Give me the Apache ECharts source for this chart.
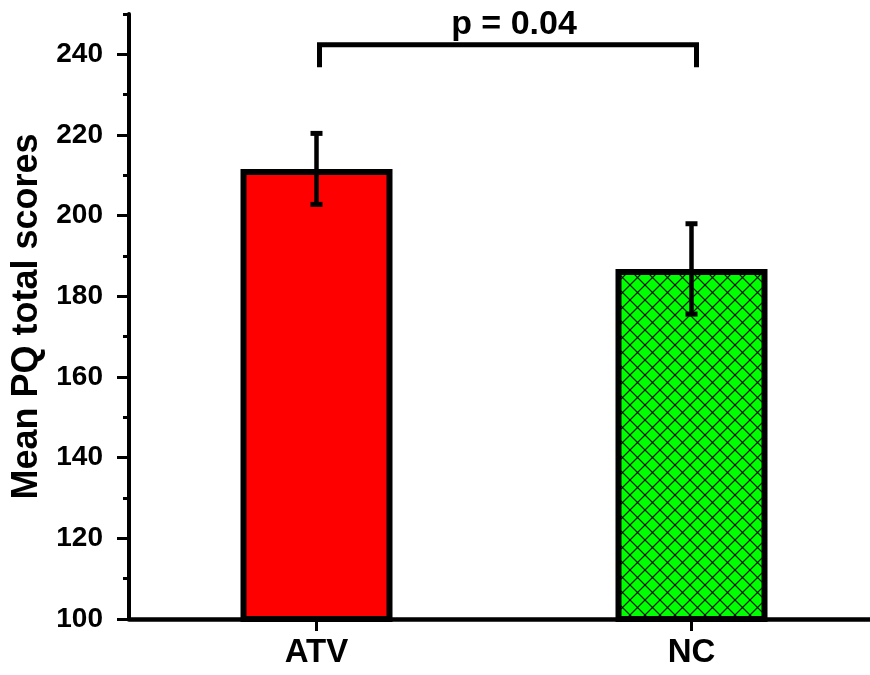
<!DOCTYPE html>
<html>
<head>
<meta charset="utf-8">
<script src="https://cdn.jsdelivr.net/npm/echarts@6/dist/echarts.min.js"></script>
<style>
  html, body { margin: 0; padding: 0; background: #fff; }
  #chart { width: 870px; height: 675px; }
</style>
</head>
<body>
<div id="chart"></div>
<script>
// Group means with their error half-widths
const categories = ['ATV', 'NC'];
const means = [211.6, 186.8];
const errors = [8.8, 11.2];

// Y axis ticks: labelled majors and short minors
const majorTicks = [100, 120, 140, 160, 180, 200, 220, 240];
const minorTicks = [110, 130, 150, 170, 190, 210, 230, 250];

// Significance bracket between the two groups
const bracketPair = [0, 1];
const bracketTop = 242.4;
const bracketLegEnd = 236.8;
const pLabel = 'p = 0.04';

const FONT = '"Liberation Sans", Arial, Helvetica, sans-serif';

// Green fill with black diagonal cross-hatching
function makeHatch() {
  const size = 15;
  const c = document.createElement('canvas');
  c.width = size; c.height = size;
  const g = c.getContext('2d');
  g.fillStyle = '#00ff00';
  g.fillRect(0, 0, size, size);
  g.strokeStyle = '#000';
  g.lineWidth = 1.1;
  g.beginPath();
  g.moveTo(-2, -2); g.lineTo(size + 2, size + 2);
  g.moveTo(size + 2, -2); g.lineTo(-2, size + 2);
  g.stroke();
  return c;
}
const barFills = ['#ff0000', { image: makeHatch(), repeat: 'repeat' }];

const chart = echarts.init(document.getElementById('chart'), null, { renderer: 'canvas' });

const option = {
  animation: false,
  backgroundColor: '#ffffff',
  grid: { left: 129, top: 14, width: 750, height: 605, containLabel: false, outerBoundsMode: 'none' },
  xAxis: {
    type: 'category',
    data: categories,
    boundaryGap: true,
    axisLine: { show: true, lineStyle: { color: '#000', width: 4.5 } },
    axisTick: { show: true, alignWithLabel: true, length: 12, lineStyle: { color: '#000', width: 3 } },
    axisLabel: { color: '#000', fontSize: 33, fontWeight: 'bold', fontFamily: FONT, margin: 17 },
    splitLine: { show: false }
  },
  yAxis: [
    {
      type: 'value',
      position: 'left',
      min: 100,
      max: 250,
      interval: 10,
      name: 'Mean PQ total scores',
      nameLocation: 'middle',
      nameGap: 83,
      nameRotate: 90,
      nameTextStyle: { color: '#000', fontSize: 36, fontWeight: 'bold', fontFamily: FONT },
      axisLine: { show: true, lineStyle: { color: '#000', width: 4 } },
      axisTick: { show: true, length: 12, lineStyle: { color: '#000', width: 3 }, customValues: majorTicks },
      axisLabel: { color: '#000', fontSize: 28, fontWeight: 'bold', fontFamily: FONT, margin: 26, customValues: majorTicks },
      splitLine: { show: false }
    },
    {
      type: 'value',
      position: 'left',
      min: 100,
      max: 250,
      interval: 10,
      axisLine: { show: false },
      axisTick: { show: true, length: 6, lineStyle: { color: '#000', width: 3 }, customValues: minorTicks },
      axisLabel: { show: false },
      splitLine: { show: false }
    }
  ],
  series: [
    {
      type: 'bar',
      yAxisIndex: 0,
      barWidth: 152,
      z: 2,
      data: means.map((v, i) => ({
        value: v,
        itemStyle: { color: barFills[i], borderColor: '#000', borderWidth: 6 }
      }))
    },
    {
      type: 'custom',
      yAxisIndex: 0,
      z: 5,
      encode: { x: 0, y: [1, 2] },
      data: means.map((m, i) => [i, m - errors[i], m + errors[i]]),
      renderItem: function (params, api) {
        const x = api.value(0);
        const lo = api.coord([x, api.value(1)]);
        const hi = api.coord([x, api.value(2)]);
        const half = 6;
        const stroke = { stroke: '#000', lineWidth: 4.5 };
        const cap = { stroke: '#000', lineWidth: 5 };
        return {
          type: 'group',
          children: [
            { type: 'line', shape: { x1: lo[0], y1: lo[1], x2: hi[0], y2: hi[1] }, style: stroke },
            { type: 'line', shape: { x1: hi[0] - half, y1: hi[1], x2: hi[0] + half, y2: hi[1] }, style: cap },
            { type: 'line', shape: { x1: lo[0] - half, y1: lo[1], x2: lo[0] + half, y2: lo[1] }, style: cap }
          ]
        };
      }
    },
    {
      type: 'custom',
      yAxisIndex: 0,
      z: 5,
      encode: { x: [0, 1], y: [2, 3] },
      data: [[bracketPair[0], bracketPair[1], bracketTop, bracketLegEnd]],
      renderItem: function (params, api) {
        const aTop = api.coord([api.value(0), api.value(2)]);
        const bTop = api.coord([api.value(1), api.value(2)]);
        const aLeg = api.coord([api.value(0), api.value(3)]);
        const bLeg = api.coord([api.value(1), api.value(3)]);
        return {
          type: 'group',
          children: [
            {
              type: 'polyline',
              shape: { points: [[aLeg[0] + 3, aLeg[1]], [aTop[0] + 3, aTop[1]], [bTop[0] + 5, bTop[1]], [bLeg[0] + 5, bLeg[1]]] },
              style: { stroke: '#000', lineWidth: 5, fill: null, lineJoin: 'miter' }
            },
            {
              type: 'text',
              x: (aTop[0] + bTop[0]) / 2 + 10,
              y: aTop[1] - 20,
              style: {
                text: pLabel,
                font: 'bold 34px ' + FONT,
                fill: '#000',
                textAlign: 'center',
                textVerticalAlign: 'middle'
              }
            }
          ]
        };
      }
    }
  ]
};

chart.setOption(option);
</script>
</body>
</html>
